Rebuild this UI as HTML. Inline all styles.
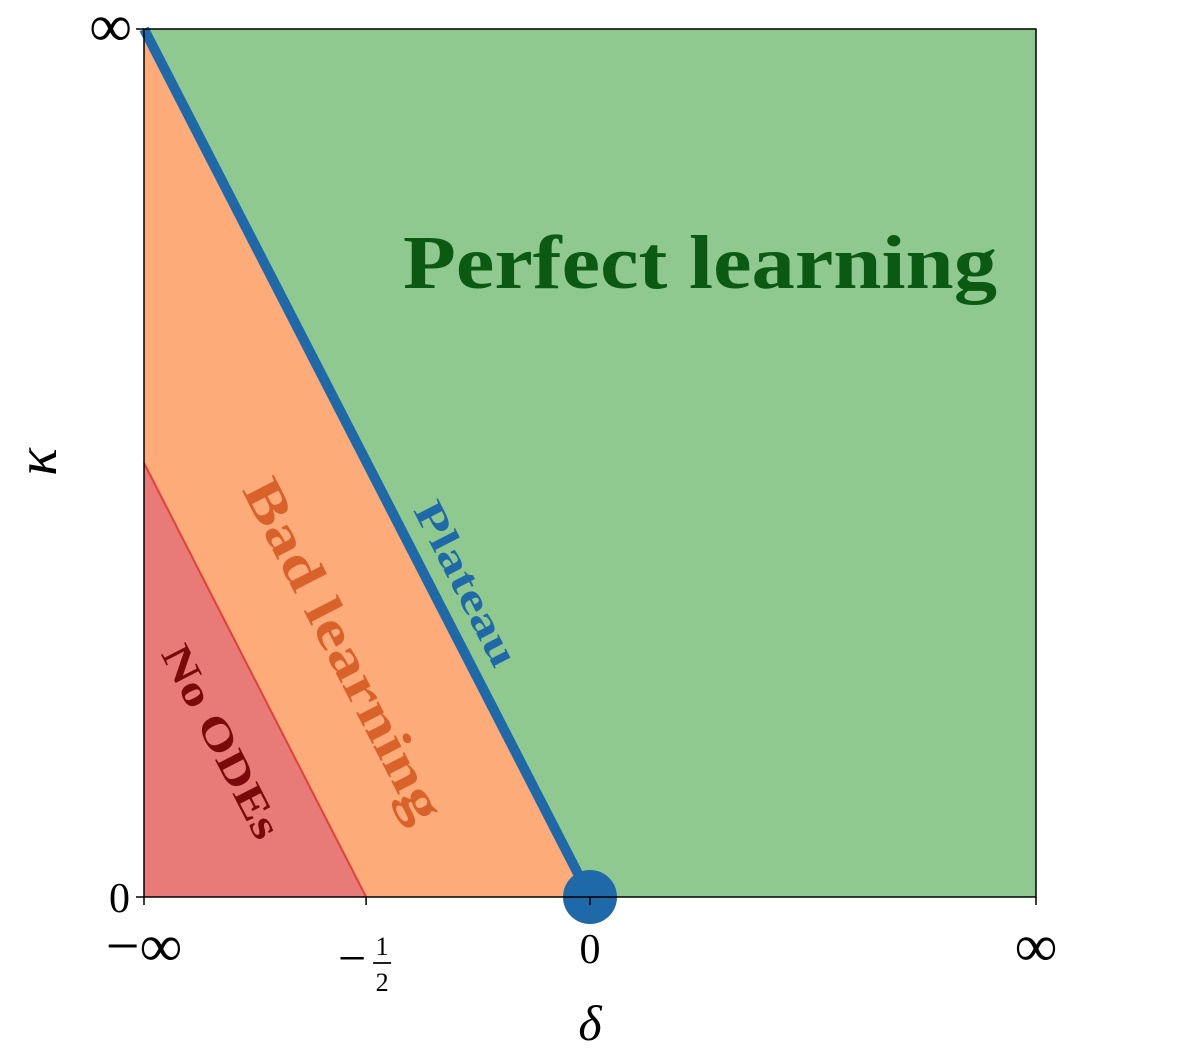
<!DOCTYPE html>
<html><head><meta charset="utf-8">
<style>
html,body{margin:0;padding:0;background:#fff;}
svg{display:block;font-family:"Liberation Serif","DejaVu Serif",serif;}
</style></head>
<body>
<svg id="chart" width="1184" height="1054" viewBox="0 0 1184 1054" xmlns="http://www.w3.org/2000/svg">
<g id="regions"></g>
<g id="lines"></g>
<g id="axes"></g>
<g id="labels"></g>
</svg>
<script>
// compactified coordinates: u in [0,1] for delta, v in [0,1] for kappa
const xTickValues = [0, 0.249, 0.5, 1];
const xTickLabels = ["\u2212\u221E", "-1/2", "0", "\u221E"];
const yTickValues = [0, 1];
const yTickLabels = ["0", "\u221E"];
const plateauLine = [[0, 1], [0.5, 0]];
const noOdeLine = [[0, 0.5], [0.249, 0]];
const criticalPoint = [0.5, 0];

const X0 = 144, X1 = 1036, Y0 = 897, Y1 = 29;
const sx = u => X0 + u * (X1 - X0);
const sy = v => Y0 - v * (Y0 - Y1);
const NS = "http://www.w3.org/2000/svg";
function mk(parent, tag, attrs) {
  const el = document.createElementNS(NS, tag);
  for (const k in attrs) el.setAttribute(k, attrs[k]);
  document.getElementById(parent).appendChild(el);
  return el;
}
const pts = a => a.map(p => sx(p[0]) + "," + sy(p[1])).join(" ");

let g = mk("regions", "rect", {x: X0, y: Y1, width: X1 - X0, height: Y0 - Y1, fill: "#90c990"});


let o = mk("regions", "polygon", {points: pts([[0, 1], plateauLine[1], [0, 0]]), fill: "#fdab78"});


let r = mk("regions", "polygon", {points: pts([noOdeLine[0], noOdeLine[1], [0, 0]]), fill: "#e87a78"});



let rl = mk("lines", "polyline", {points: pts(noOdeLine), stroke: "#e0413a", "stroke-width": 2, fill: "none"});


let bl = mk("lines", "polyline", {points: pts(plateauLine), stroke: "#1f69a8", "stroke-width": 10, fill: "none"});


let cp = mk("lines", "circle", {cx: sx(criticalPoint[0]), cy: sy(criticalPoint[1]), r: 27, fill: "#1f69a8"});



let fr = mk("axes", "rect", {x: X0, y: Y1, width: X1 - X0, height: Y0 - Y1, fill: "none", stroke: "#000", "stroke-width": 1.5});



function infText(x, y, anchor, withMinus) {
  const tx = mk("axes", "text", {x: x, y: y, "font-size": 60, "text-anchor": anchor});
  tx.textContent = (withMinus ? "\u2212" : "") + "\u221E";
  return tx;
}

xTickValues.forEach((u, i) => {
  const x = sx(u);
  const t = mk("axes", "line", {x1: x, x2: x, y1: Y0, y2: Y0 + 8, stroke: "#000", "stroke-width": 1.5});
  
  
  const lab = xTickLabels[i];
  let tx;
  if (lab === "-1/2") {
    tx = mk("axes", "text", {x: x - 14, y: 975, "font-size": 50, "text-anchor": "middle"});
    tx.textContent = "\u2212";
    const n = mk("axes", "text", {x: x + 16, y: 955, "font-size": 26, "text-anchor": "middle"});
    n.textContent = "1";
    
    
    const ln = mk("axes", "line", {x1: x + 7, x2: x + 25, y1: 963, y2: 963, stroke: "#000", "stroke-width": 1.8});
    
    
    const d = mk("axes", "text", {x: x + 16, y: 991, "font-size": 26, "text-anchor": "middle"});
    d.textContent = "2";
    
    
  } else if (lab.indexOf("\u221E") >= 0) {
    tx = infText(x, 966, "middle", lab.length > 1);
  } else {
    tx = mk("axes", "text", {x: x, y: 963, "font-size": 42, "text-anchor": "middle"});
    tx.textContent = lab;
  }
  
  
});
yTickValues.forEach((v, i) => {
  const y = sy(v);
  const t = mk("axes", "line", {x1: X0 - 8, x2: X0, y1: y, y2: y, stroke: "#000", "stroke-width": 1.5});
  
  
  let tx;
  if (yTickLabels[i] === "\u221E") {
    tx = infText(X0 - 12, y + 17, "end", false);
  } else {
    tx = mk("axes", "text", {x: X0 - 14, y: y + 15, "font-size": 42, "text-anchor": "end"});
    tx.textContent = yTickLabels[i];
  }
  
  
});
let xt = mk("axes", "text", {x: 590, y: 1040, "font-size": 50, "font-style": "italic", "text-anchor": "middle"});
xt.textContent = "\u03B4";


let yt = mk("axes", "text", {x: 0, y: 0, "font-size": 58, "font-style": "italic", "text-anchor": "middle", transform: "translate(56,462) rotate(-90)"});
yt.textContent = "\u03BA";



const ang = Math.atan2(sy(0) - sy(1), sx(0.5) - sx(0)) * 180 / Math.PI;
let pl = mk("labels", "text", {x: 700, y: 288, "font-size": 76, "font-weight": "bold", fill: "#0b5a14", "text-anchor": "middle", textLength: 594, lengthAdjust: "spacingAndGlyphs"});
pl.textContent = "Perfect learning";


let bd = mk("labels", "text", {x: 0, y: 0, "font-size": 54, "font-weight": "bold", fill: "#d9622b", "text-anchor": "middle", textLength: 378, lengthAdjust: "spacingAndGlyphs", transform: `translate(328,658) rotate(${ang})`});
bd.textContent = "Bad learning";


let pt = mk("labels", "text", {x: 0, y: 0, "font-size": 42, "font-weight": "bold", fill: "#1f69a8", "text-anchor": "middle", textLength: 180, lengthAdjust: "spacingAndGlyphs", transform: `translate(454,590) rotate(${ang})`});
pt.textContent = "Plateau";


let no = mk("labels", "text", {x: 0, y: 0, "font-size": 42, "font-weight": "bold", fill: "#7a0a0a", "text-anchor": "middle", textLength: 212, lengthAdjust: "spacingAndGlyphs", transform: `translate(209,748) rotate(${ang})`});
no.textContent = "No ODEs";


</script>
</body></html>
